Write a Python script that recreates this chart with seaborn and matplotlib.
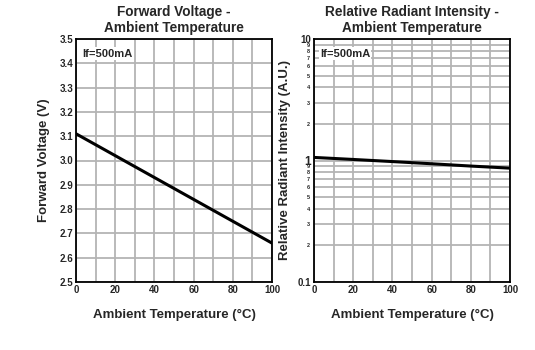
import matplotlib
matplotlib.use("Agg")
import matplotlib.pyplot as plt
import matplotlib.ticker as mticker
import seaborn as sns
import pandas as pd

temperature = [0, 20, 40, 60, 80, 100]
forward_voltage = [3.11, 3.02, 2.93, 2.84, 2.75, 2.66]
relative_intensity = [1.06, 1.02, 0.98, 0.94, 0.90, 0.865]

sns.set_style("white")
plt.rcParams['font.family'] = ['Liberation Sans', 'DejaVu Sans']
plt.rcParams['font.weight'] = 'bold'

fig = plt.figure(figsize=(5.35, 3.5), dpi=100)
W, H = 535, 350

def add_ax(x0, x1, y0, y1):
    return fig.add_axes([x0 / W, 1 - y1 / H, (x1 - x0) / W, (y1 - y0) / H])

ax1 = add_ax(76, 272, 39, 282)
ax2 = add_ax(314, 510, 39, 282)

grid_kw = dict(color='#b4b4b4', linewidth=1.3)

df1 = pd.DataFrame({'t': temperature, 'v': forward_voltage})
sns.lineplot(data=df1, x='t', y='v', ax=ax1, color='black', linewidth=2.2, zorder=5)
ax1.set_xlim(0, 100)
ax1.set_ylim(2.5, 3.5)
ax1.xaxis.set_major_locator(mticker.MultipleLocator(20))
ax1.xaxis.set_minor_locator(mticker.MultipleLocator(10))
ax1.yaxis.set_major_locator(mticker.MultipleLocator(0.1))
ax1.yaxis.set_major_formatter(mticker.FormatStrFormatter('%.1f'))
ax1.grid(True, which='both', **grid_kw)
ax1.set_title('Forward Voltage -\nAmbient Temperature', fontsize=9.8, fontweight='bold',
              pad=5, linespacing=1.18)
ax1.set_ylabel('Forward Voltage (V)', fontsize=9.5, fontweight='bold', labelpad=7)

df2 = pd.DataFrame({'t': temperature, 'r': relative_intensity})
sns.lineplot(data=df2, x='t', y='r', ax=ax2, color='black', linewidth=2.2, zorder=5)
ax2.set_yscale('log')
ax2.set_xlim(0, 100)
ax2.set_ylim(0.1, 10)
ax2.xaxis.set_major_locator(mticker.MultipleLocator(20))
ax2.xaxis.set_minor_locator(mticker.MultipleLocator(10))
ax2.yaxis.set_major_locator(mticker.FixedLocator([0.1, 1, 10]))
ax2.yaxis.set_major_formatter(mticker.FixedFormatter(['0.1', '1', '10']))
minor_vals = [m * d for d in (0.1, 1) for m in range(2, 10)]
ax2.yaxis.set_minor_locator(mticker.FixedLocator(minor_vals))
ax2.yaxis.set_minor_formatter(mticker.FuncFormatter(
    lambda v, p: str(int(round(v * 10))) if v < 1 else str(int(round(v)))))
ax2.grid(True, which='both', **grid_kw)
ax2.set_title('Relative Radiant Intensity -\nAmbient Temperature', fontsize=9.8, fontweight='bold',
              pad=5, linespacing=1.18)
ax2.set_ylabel('Relative Radiant Intensity (A.U.)', fontsize=9.5, fontweight='bold', labelpad=5)

for ax in (ax1, ax2):
    ax.set_xlabel('Ambient Temperature (°C)', fontsize=9.5, fontweight='bold', labelpad=10)
    ax.tick_params(which='both', length=0, pad=2)
    ax.tick_params(axis='both', which='major', labelsize=7)
    ax.tick_params(axis='y', which='minor', labelsize=4, pad=3)
    for lab in ax.get_xticklabels() + ax.get_yticklabels(which='both'):
        lab.set_fontweight('bold')
    for s in ax.spines.values():
        s.set_visible(True)
        s.set_color('black')
        s.set_linewidth(1.3)
    ax.text(0.03, 0.94, 'If=500mA', transform=ax.transAxes, fontsize=8, fontweight='bold',
            va='center', ha='left', zorder=6,
            bbox=dict(facecolor='white', edgecolor='none', pad=1.0))
    ax.set_axisbelow(True)

for lab in ax2.get_yticklabels():
    if lab.get_text() == '1':
        lab.set_fontsize(8.5)

fig.savefig('out.png', dpi=100, facecolor='white')
